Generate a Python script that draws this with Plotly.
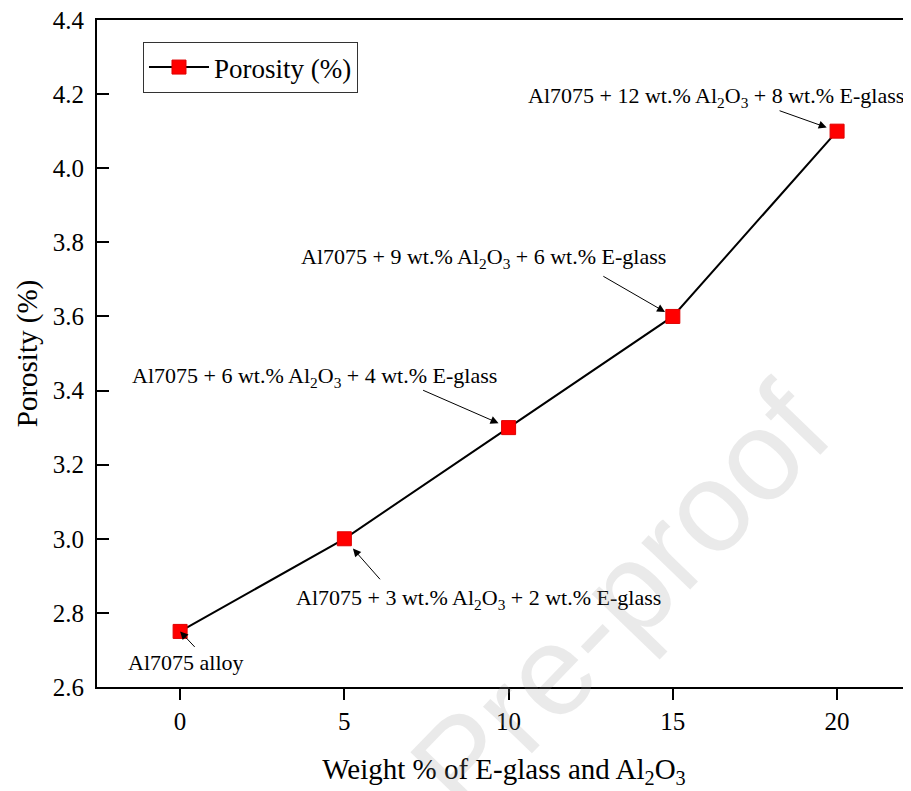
import plotly.graph_objects as go

# Data
weight_pct = [0, 5, 10, 15, 20]
porosity = [2.75, 3.0, 3.3, 3.6, 4.1]
labels = [
    "Al7075 alloy",
    "Al7075 + 3 wt.% Al<sub>2</sub>O<sub>3</sub> + 2 wt.% E-glass",
    "Al7075 + 6 wt.% Al<sub>2</sub>O<sub>3</sub> + 4 wt.% E-glass",
    "Al7075 + 9 wt.% Al<sub>2</sub>O<sub>3</sub> + 6 wt.% E-glass",
    "Al7075 + 12 wt.% Al<sub>2</sub>O<sub>3</sub> + 8 wt.% E-glass",
]
x_ticks = [0, 5, 10, 15, 20]
y_ticks = [2.6, 2.8, 3.0, 3.2, 3.4, 3.6, 3.8, 4.0, 4.2, 4.4]

FONT = "Times New Roman"

fig = go.Figure()
fig.add_trace(go.Scatter(
    x=weight_pct, y=porosity, mode="lines+markers", name="Porosity (%)",
    line=dict(color="black", width=2),
    marker=dict(symbol="square", size=14, color="#ff0000",
                line=dict(color="#e00000", width=1)),
))

# label text positions (data coords) and arrow geometry (pixel offsets)
label_pos = [(0.18, 2.665), (9.07, 2.838), (4.09, 3.437), (9.24, 3.758), (16.3, 4.192)]
arrow_off = [(16, 17, 0), (37, 42, 13), (-87, -38, 11), (-71, -41, 9), (-59, -21, 11)]

annotations = []
for i, (lx, ly) in enumerate(label_pos):
    annotations.append(dict(x=lx, y=ly, xref="x", yref="y", text=labels[i],
                            showarrow=False, font=dict(family=FONT, size=22, color="black"),
                            xanchor="center", yanchor="middle"))
    ax, ay, so = arrow_off[i]
    annotations.append(dict(x=weight_pct[i], y=porosity[i], xref="x", yref="y", text="",
                            showarrow=True, ax=ax, ay=ay, standoff=so,
                            arrowhead=2, arrowsize=1.6, arrowwidth=1, arrowcolor="black"))

# watermark
annotations.append(dict(x=0.642, y=0.133, xref="paper", yref="paper", text="Pre-proof",
                        showarrow=False, textangle=-46, xanchor="center", yanchor="middle",
                        font=dict(family="Liberation Sans", size=128,
                                  color="rgba(150,150,150,0.2)")))

fig.update_layout(
    width=903, height=783,
    margin=dict(l=89, r=0, t=12, b=104, autoexpand=False),
    paper_bgcolor="white", plot_bgcolor="white",
    font=dict(family=FONT, color="black"),
    showlegend=True,
    legend=dict(x=0.0565, y=0.967, xanchor="left", yanchor="top",
                bgcolor="white", bordercolor="#333333", borderwidth=1,
                font=dict(family=FONT, size=27, color="black"),
                itemwidth=60, tracegroupgap=0),
    annotations=annotations,
    xaxis=dict(range=[-2.53, 22.25], tickvals=x_ticks, ticks="outside", ticklen=11,
               tickwidth=2, tickcolor="black", showline=True, linewidth=2,
               linecolor="black", mirror=True, showgrid=False, zeroline=False,
               automargin=False, ticklabeloverflow="allow",
               tickfont=dict(family=FONT, size=25),
               title=dict(text="Weight % of E-glass and Al<sub>2</sub>O<sub>3</sub>",
                          font=dict(family=FONT, size=29), standoff=25)),
    yaxis=dict(range=[2.6, 4.4], tickvals=y_ticks, tickformat=".1f", ticks="inside",
               ticklen=12, tickwidth=2, tickcolor="black", showline=True, linewidth=2,
               linecolor="black", mirror=False, showgrid=False, zeroline=False,
               automargin=False, ticklabeloverflow="allow",
               tickfont=dict(family=FONT, size=25), ticklabelstandoff=6,
               title=dict(text="Porosity (%)", font=dict(family=FONT, size=29), standoff=7)),
)

fig.write_html("out.html")
